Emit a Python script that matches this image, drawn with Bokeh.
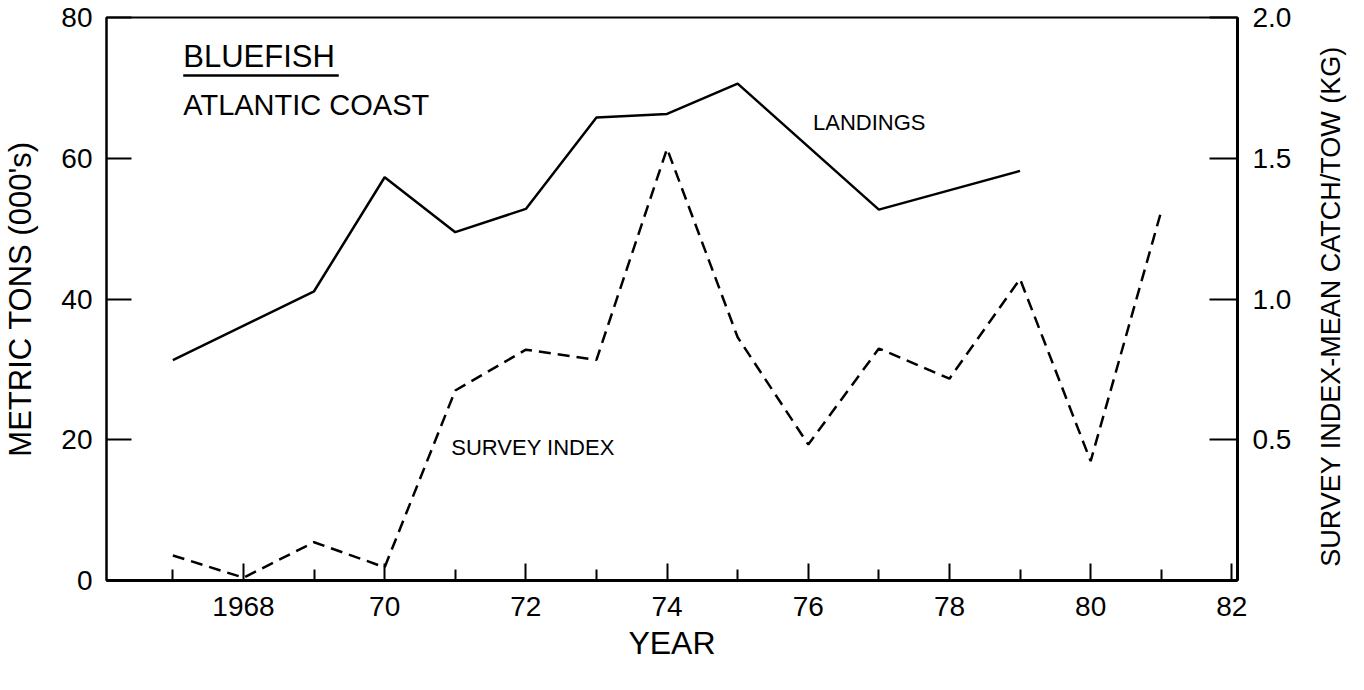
import math
from bokeh.plotting import figure
from bokeh.layouts import row
from bokeh.models import Range1d, LinearAxis, FixedTicker, NumeralTickFormatter, Label
from bokeh.embed import file_html
from bokeh.resources import INLINE

# ---- data ----
landings_years = [1967, 1969, 1970, 1971, 1972, 1973, 1974, 1975, 1977, 1979]
landings_kt = [31.3, 41.1, 57.3, 49.5, 52.8, 65.8, 66.3, 70.6, 52.7, 58.2]

survey_years = [1967, 1968, 1969, 1970, 1971, 1972, 1973, 1974, 1975, 1976, 1977, 1978, 1979, 1980, 1981]
survey_index = [0.089, 0.01, 0.136, 0.047, 0.675, 0.82, 0.784, 1.534, 0.864, 0.483, 0.824, 0.717, 1.071, 0.424, 1.312]

x_major_ticks = [1968, 1970, 1972, 1974, 1976, 1978, 1980, 1982]
x_major_labels = ["1968", "70", "72", "74", "76", "78", "80", "82"]
x_minor_ticks = [1967, 1969, 1971, 1973, 1975, 1977, 1979, 1981]
left_ticks = [0, 20, 40, 60, 80]
right_ticks = [0.5, 1.0, 1.5, 2.0]
right_title = "SURVEY INDEX-MEAN CATCH/TOW   (KG)"

FONT = "Liberation Sans"
H = 674
SIDE_W = 50

p = figure(width=1348 - SIDE_W, height=H, output_backend="svg", toolbar_location=None,
           x_range=Range1d(1966.06, 1982.08), y_range=Range1d(0, 80),
           min_border_left=102, min_border_right=1348 - SIDE_W - 1237,
           min_border_top=17, min_border_bottom=94)
p.extra_y_ranges = {"right": Range1d(0, 2.0)}

p.xgrid.visible = False
p.ygrid.visible = False
p.outline_line_color = "black"
p.outline_line_width = 2
p.background_fill_color = "white"
p.border_fill_color = "white"

# bottom axis
xa = p.xaxis[0]
xa.ticker = FixedTicker(ticks=x_major_ticks, minor_ticks=x_minor_ticks)
xa.major_label_overrides = dict(zip(x_major_ticks, x_major_labels))
xa.axis_label = "YEAR"
xa.axis_line_width = 3
xa.major_tick_in = 17
xa.major_tick_out = 0
xa.minor_tick_in = 11
xa.minor_tick_out = 0
xa.major_tick_line_width = 2
xa.minor_tick_line_width = 2
xa.major_label_standoff = 16
xa.axis_label_standoff = 6

# left axis
ya = p.yaxis[0]
ya.ticker = FixedTicker(ticks=left_ticks)
ya.axis_label = "METRIC TONS (000's)"
ya.axis_line_width = 2
ya.major_tick_in = 25
ya.major_tick_out = 0
ya.minor_tick_line_color = None
ya.major_tick_line_width = 2
ya.major_label_standoff = 14
ya.axis_label_standoff = 20

# right axis
ra = LinearAxis(y_range_name="right", ticker=FixedTicker(ticks=right_ticks),
                formatter=NumeralTickFormatter(format="0.0"))
ra.axis_line_width = 3
ra.major_tick_in = 28
ra.major_tick_out = 0
ra.minor_tick_line_color = None
ra.major_tick_line_width = 2
ra.major_label_standoff = 15
p.add_layout(ra, "right")

for ax in (xa, ya, ra):
    ax.axis_line_color = "black"
    ax.major_tick_line_color = "black"
    ax.major_label_text_font = FONT
    ax.major_label_text_font_size = "28px"
    ax.major_label_text_color = "black"
    ax.axis_label_text_font = FONT
    ax.axis_label_text_font_style = "normal"
    ax.axis_label_text_color = "black"
xa.minor_tick_line_color = "black"
xa.axis_label_text_font_size = "32px"
ya.axis_label_text_font_size = "31px"

# series
p.line(landings_years, landings_kt, line_color="black", line_width=2.5)
p.line(survey_years, survey_index, line_color="black", line_width=2.5,
       line_dash="12 7", y_range_name="right")

# annotations (y = vertical centre of the capitals)
def add_label(x, y, text, size):
    p.add_layout(Label(x=x, y=y, text=text, text_font=FONT, text_font_size=size,
                       text_color="black", text_align="left", text_baseline="middle"))

add_label(1967.147, 74.46, "BLUEFISH", "31px")
add_label(1967.147, 67.50, "ATLANTIC COAST", "29px")
add_label(1976.067, 65.15, "LANDINGS", "22px")
add_label(1970.944, 18.83, "SURVEY INDEX", "22px")

# underline beneath BLUEFISH
p.segment(x0=[1967.147], y0=[71.76], x1=[1969.35], y1=[71.76], line_color="black", line_width=2.5)

# narrow strip to the right carrying the right-hand axis title, reading bottom-to-top
# (its frame is aligned with the main frame, so the title is centred on that frame)
side = figure(width=SIDE_W, height=H, output_backend="svg", toolbar_location=None,
              x_range=Range1d(0, SIDE_W), y_range=Range1d(0, H),
              x_axis_location=None, y_axis_location=None,
              min_border=0, min_border_left=0, min_border_right=0,
              min_border_top=0, min_border_bottom=0)
side.outline_line_color = None
side.grid.visible = False
side.background_fill_color = "white"
side.border_fill_color = "white"
side.add_layout(Label(x=32, y=337, text=right_title, angle=math.pi / 2,
                      text_font=FONT, text_font_size="27px", text_color="black",
                      text_align="center", text_baseline="middle"))

layout = row(p, side, spacing=0)
open("out.html", "w").write(file_html(layout, INLINE))
